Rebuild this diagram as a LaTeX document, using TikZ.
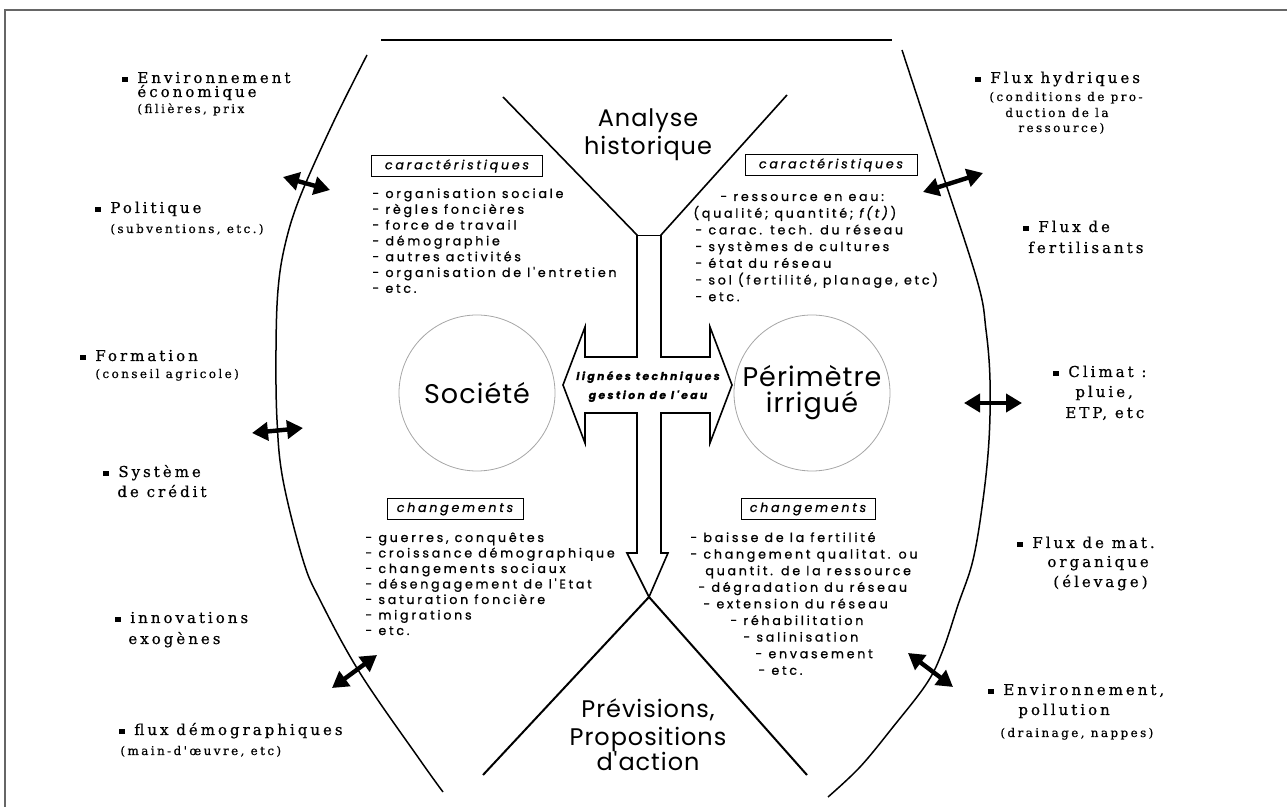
\documentclass[tikz,border=0pt]{standalone}
\usepackage{fontspec}
\usetikzlibrary{arrows.meta,positioning}
\newfontfamily\headfont[LetterSpace=4]{Poppins}
\newfontfamily\listfont[LetterSpace=22,FakeBold=1]{Poppins}
\newfontfamily\itemfont[LetterSpace=20,FakeBold=0.6]{DejaVu Serif}
\newcommand{\sqb}{\rule[0.5pt]{2.6pt}{2.6pt}\hspace{4.9pt}}

\begin{document}
\begin{tikzpicture}[x=0.5pt,y=-0.5pt,
  head/.style={font=\headfont\fontsize{12}{14}\selectfont, anchor=base, inner sep=0pt},
  ring/.style={circle, draw=gray!70, line width=0.4pt, minimum size=78pt, inner sep=0pt,
    align=center, font=\headfont\fontsize{13.5}{13}\selectfont},
  listtxt/.style={font=\listfont\fontsize{6.3}{7.9}\selectfont, anchor=base west, inner sep=0pt},
  midtxt/.style={font=\listfont\bfseries\itshape\fontsize{5.4}{7}\selectfont, anchor=base, inner sep=0pt},
  tagbox/.style={draw, line width=0.5pt, minimum height=10.5pt, inner sep=0pt,
    font=\listfont\itshape\fontsize{6.3}{7}\selectfont},
  item/.style={font=\itemfont\fontsize{7.5}{9}\selectfont, anchor=base west, inner sep=0pt},
  sub/.style={item, font=\itemfont\fontsize{6}{7}\selectfont},
  rim/.style={line width=0.75pt},
  funnel/.style={line width=0.8pt, line join=miter},
  link/.style={line width=2.2pt, {Triangle[length=8pt,width=9pt]}-{Triangle[length=8pt,width=9pt]}}]

\useasboundingbox (0,0) rectangle (1287,807);
\draw[line width=0.8pt, gray!80!black] (5,807) -- (5,10) -- (1287,10);

% outer limits of the system
\draw[line width=1pt] (381,40) -- (892,40);
\draw[rim] plot[smooth, tension=0.6] coordinates {(367,55) (333,123) (300,197) (285,245) (278,290)
  (276,350) (277,420) (283,480) (303,560) (320,600) (360,673) (420,760) (443,792)};
\draw[rim] plot[smooth, tension=0.6] coordinates {(902,50) (937,157) (977,280) (986,330) (990,380)
  (989,440) (983,500) (973,560) (958,605) (943,650) (927,683) (893,727) (860,767) (828,797)};

% funnel and cross arrow
\coordinate (tip) at (649,597);
\draw[funnel] (503,97) -- (637,235) -- (637,357) -- (585,357) -- (585,327) -- (563,385) -- (585,443)
  -- (585,413) -- (637,413) -- (637,553) -- (627,553) -- (tip) -- (668,553) -- (661,553) -- (661,413)
  -- (710,413) -- (710,443) -- (732,385) -- (710,327) -- (710,357) -- (661,357) -- (661,235) -- (787,95);
\draw[line width=0.4pt] (637,235) -- (661,235);
\coordinate (xl) at (483,775);
\coordinate (xr) at (807,775);
\draw[line width=1pt] (xl) -- (tip) -- (xr);

\node[midtxt] (tech) at (648,380) {lignées techniques};
\node[midtxt] (gest) at (648,399) {gestion de l'eau};

\node[head] (ana1) at (648,127) {Analyse};
\node[head] (ana2) at (648,155) {historique};
\node[head] (pre1) at (648,718) {Prévisions,};
\node[head] (pre2) at (648,746) {Propositions};
\node[head] (pre3) at (648,771) {d'action};

\node[ring] (soc) at (477,393) {Société};
\node[ring] (per) at (812,393) {Périmètre\\irrigué};

% characteristics and changes
\node[tagbox, minimum width=85.5pt] (carL) at (457,166) {caractéristiques};
\node[tagbox, minimum width=86pt] (carR) at (831,165) {caractéristiques};
\node[tagbox, minimum width=68pt] (chgL) at (455,509) {changements};
\node[tagbox, minimum width=67pt] (chgR) at (808,509) {changements};

\foreach \t [count=\i from 0] in {organisation sociale, règles foncières, force de travail,
  démographie, autres activités, organisation de l'entretien, etc.}
  \node[listtxt] (cl\i) at (372,198+15.8*\i) {- \t};
\foreach \dx/\t [count=\i from 0] in {27/{- ressource en eau:}, 0/{(qualité; quantité; \textit{f(t)})},
  2/{- carac. tech. du réseau}, 2/{- systèmes de cultures}, 2/{- état du réseau},
  2/{- sol (fertilité, planage, etc)}, 2/{- etc.}}
  \node[listtxt] (cr\i) at (693+\dx,201+16.7*\i) {\t};
\foreach \t [count=\i from 0] in {{guerres, conquêtes}, croissance démographique, changements sociaux,
  désengagement de l'Etat, saturation foncière, migrations, etc.}
  \node[listtxt] (hl\i) at (365,542+15.5*\i) {- \t};
\foreach \dx/\t [count=\i from 0] in {0/{- baisse de la fertilité}, 0/{- changement qualitat. ou},
  15/{quantit. de la ressource}, 8/{- dégradation du réseau}, 13/{- extension du réseau},
  40/{- réhabilitation}, 53/{- salinisation}, 65/{- envasement}, 68/{- etc.}}
  \node[listtxt] (hr\i) at (690+\dx,542+16.6*\i) {\t};

% outside factors, left
\node[item] (eco1) at (122,83) {\sqb Environnement};
\node[item] (eco2) at (137,97) {économique};
\node[sub] (eco3) at (137,113) {(filières, prix};
\node[item] (pol1) at (95,213) {\sqb Politique};
\node[sub] (pol2) at (110,233) {(subventions, etc.)};
\node[item] (frm1) at (80,361) {\sqb Formation};
\node[sub] (frm2) at (95,378) {(conseil agricole)};
\node[item] (cre1) at (103,477) {\sqb Système};
\node[item] (cre2) at (117,497) {de crédit};
\node[item] (inn1) at (115,623) {\sqb innovations};
\node[item] (inn2) at (128,644) {exogènes};
\node[item] (dem1) at (119,735) {\sqb flux démographiques};
\node[sub] (dem2) at (120,755) {(main-d'œuvre, etc)};

% outside factors, right
\node[item] (hyd1) at (975,83) {\sqb Flux hydriques};
\node[sub] (hyd2) at (989,101) {(conditions de pro-};
\node[sub] (hyd3) at (1005,117) {duction de la};
\node[sub] (hyd4) at (1018,132) {ressource)};
\node[item] (fer1) at (1023,232) {\sqb Flux de};
\node[item] (fer2) at (1028,253) {fertilisants};
\node[item] (cli1) at (1053,377) {\sqb Climat :};
\node[item] (cli2) at (1075,397) {pluie,};
\node[item] (cli3) at (1065,418) {ETP, etc};
\node[item] (org1) at (1017,548) {\sqb Flux de mat.};
\node[item] (org2) at (1047,567) {organique};
\node[item] (org3) at (1053,587) {(élevage)};
\node[item] (nap1) at (988,695) {\sqb Environnement,};
\node[item] (nap2) at (1018,715) {pollution};
\node[sub] (nap3) at (1000,737) {(drainage, nappes)};

% exchanges across the limits
\coordinate (a1) at (283,177); \coordinate (b1) at (330,190);
\coordinate (a2) at (252,433); \coordinate (b2) at (303,428);
\coordinate (a3) at (332,688); \coordinate (b3) at (377,655);
\coordinate (a4) at (923,192); \coordinate (b4) at (983,173);
\coordinate (a5) at (964,403); \coordinate (b5) at (1022,403);
\coordinate (a6) at (908,653); \coordinate (b6) at (953,687);
\foreach \k in {1,...,6}
  \draw[link] (a\k) -- (b\k);
\end{tikzpicture}
\end{document}
